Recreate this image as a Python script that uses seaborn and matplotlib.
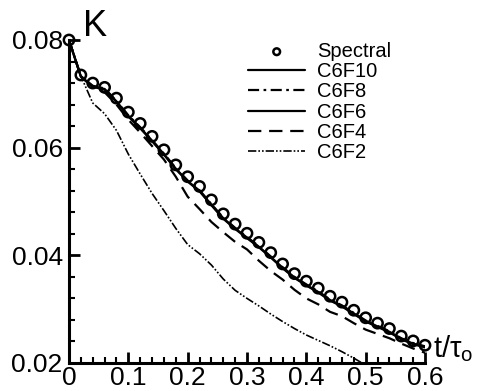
import numpy as np
import pandas as pd
import matplotlib
matplotlib.use("Agg")
import matplotlib.pyplot as plt
import seaborn as sns

# ---- data ----
t = [0.00, 0.02, 0.04, 0.06, 0.08, 0.10, 0.12, 0.14, 0.16, 0.18, 0.20,
     0.22, 0.24, 0.26, 0.28, 0.30, 0.32, 0.34, 0.36, 0.38, 0.40,
     0.42, 0.44, 0.46, 0.48, 0.50, 0.52, 0.54, 0.56, 0.58, 0.60]

spectral = [0.0800, 0.0735, 0.0720, 0.0712, 0.0692, 0.0666, 0.0645, 0.0621, 0.0596, 0.0568, 0.0546,
            0.0528, 0.0503, 0.0477, 0.0458, 0.0441, 0.0424, 0.0405, 0.0384, 0.0366, 0.0352,
            0.0339, 0.0324, 0.0313, 0.0298, 0.0284, 0.0274, 0.0264, 0.0250, 0.0241, 0.0233]

c6f10 = [0.0800, 0.0732, 0.0714, 0.0709, 0.0686, 0.0659, 0.0637, 0.0613, 0.0588, 0.0561, 0.0538,
         0.0520, 0.0494, 0.0469, 0.0450, 0.0433, 0.0416, 0.0397, 0.0377, 0.0359, 0.0345,
         0.0332, 0.0317, 0.0306, 0.0292, 0.0278, 0.0268, 0.0258, 0.0245, 0.0236, 0.0230]

c6f8 = [0.0800, 0.0733, 0.0715, 0.0710, 0.0687, 0.0660, 0.0638, 0.0614, 0.0589, 0.0562, 0.0539,
        0.0521, 0.0495, 0.0470, 0.0451, 0.0434, 0.0417, 0.0398, 0.0378, 0.0360, 0.0346,
        0.0333, 0.0318, 0.0307, 0.0293, 0.0279, 0.0269, 0.0259, 0.0246, 0.0237, 0.0231]

c6f6 = [0.0800, 0.0732, 0.0713, 0.0708, 0.0685, 0.0658, 0.0636, 0.0612, 0.0587, 0.0560, 0.0537,
        0.0519, 0.0493, 0.0468, 0.0449, 0.0432, 0.0415, 0.0396, 0.0376, 0.0358, 0.0344,
        0.0331, 0.0316, 0.0305, 0.0291, 0.0277, 0.0267, 0.0257, 0.0244, 0.0235, 0.0229]

c6f4 = [0.0800, 0.0732, 0.0713, 0.0703, 0.0680, 0.0652, 0.0628, 0.0603, 0.0578, 0.0546, 0.0509,
        0.0486, 0.0462, 0.0443, 0.0425, 0.0411, 0.0390, 0.0371, 0.0355, 0.0336, 0.0320,
        0.0309, 0.0295, 0.0287, 0.0274, 0.0262, 0.0254, 0.0246, 0.0236, 0.0227, 0.0219]

c6f2 = [0.0800, 0.0733, 0.0683, 0.0663, 0.0632, 0.0588, 0.0551, 0.0515, 0.0483, 0.0450, 0.0420,
        0.0403, 0.0382, 0.0356, 0.0335, 0.0320, 0.0306, 0.0291, 0.0277, 0.0264, 0.0252,
        0.0242, 0.0232, 0.0221, 0.0209, 0.0196, 0.0185, 0.0175, 0.0165, 0.0155, 0.0145]

xticks = [0, 0.1, 0.2, 0.3, 0.4, 0.5, 0.6]
xticklabels = ["0", "0.1", "0.2", "0.3", "0.4", "0.5", "0.6"]
yticks = [0.02, 0.04, 0.06, 0.08]
yticklabels = ["0.02", "0.04", "0.06", "0.08"]

# ---- style ----
sns.set_theme(style="ticks")
plt.rcParams["font.family"] = ["Liberation Sans", "DejaVu Sans"]
plt.rcParams["mathtext.fontset"] = "custom"
plt.rcParams["mathtext.rm"] = "Liberation Sans"
plt.rcParams["mathtext.it"] = "Liberation Sans"
plt.rcParams["mathtext.bf"] = "Liberation Sans:bold"

fig = plt.figure(figsize=(4.84, 3.91), dpi=100)
ax = fig.add_axes([69 / 484, 1 - 363 / 391, (425 - 69) / 484, (363 - 40) / 391])

lw = 1.6
series = [
    ("C6F10", c6f10, "-", lw),
    ("C6F8", c6f8, (0, (5, 2, 1.2, 2)), lw),
    ("C6F6", c6f6, "-", lw),
    ("C6F4", c6f4, (0, (6, 3.5)), lw),
    ("C6F2", c6f2, (0, (5, 1.2, 1, 1.2, 1, 1.2)), 1.2),
]
for name, vals, ls, w in series:
    sns.lineplot(x=t, y=vals, ax=ax, color="black", linestyle=ls, linewidth=w,
                 label=name, clip_on=True)

sns.scatterplot(x=t, y=spectral, ax=ax, marker="o", s=55, fc="none", ec="black",
                linewidth=1.8, label="Spectral", zorder=5, clip_on=False)

ax.set_xlim(0, 0.6)
ax.set_ylim(0.02, 0.08)
ax.set_xticks(xticks)
ax.set_xticklabels(xticklabels)
ax.set_yticks(yticks)
ax.set_yticklabels(yticklabels)
ax.set_xticks(np.arange(0, 0.6001, 0.02), minor=True)
ax.set_yticks(np.arange(0.02, 0.08001, 0.004), minor=True)
ax.tick_params(which="major", direction="in", length=8, width=2, labelsize=19,
               colors="black", pad=4.5)
ax.tick_params(which="minor", direction="in", length=4.5, width=1.5, colors="black")
ax.tick_params(axis="x", which="major", pad=2.5)
for s in ["top", "right"]:
    ax.spines[s].set_visible(False)
for s in ["left", "bottom"]:
    ax.spines[s].set_linewidth(2.2)
    ax.spines[s].set_color("black")
ax.set_xlabel("")
ax.set_ylabel("")

ax.text(0.039, 1.012, "K", transform=ax.transAxes, fontsize=26, ha="left",
        va="baseline", color="black")
ax.text(1.022, 0.019, r"t/$\tau_\mathrm{o}$", transform=ax.transAxes, fontsize=21,
        ha="left", va="baseline", color="black")

handles, labels = ax.get_legend_handles_labels()
order = ["Spectral", "C6F10", "C6F8", "C6F6", "C6F4", "C6F2"]
hmap = dict(zip(labels, handles))
leg = ax.legend([hmap[k] for k in order], order, loc="upper left",
                bbox_to_anchor=(248 / 484, 1 - 42 / 391), bbox_transform=fig.transFigure,
                frameon=False, fontsize=14.5, handlelength=2.85, handletextpad=0.6,
                labelspacing=0.06, borderpad=0, borderaxespad=0, markerscale=0.65)
for txt in leg.get_texts():
    txt.set_color("black")

fig.savefig("out.png", dpi=100)
